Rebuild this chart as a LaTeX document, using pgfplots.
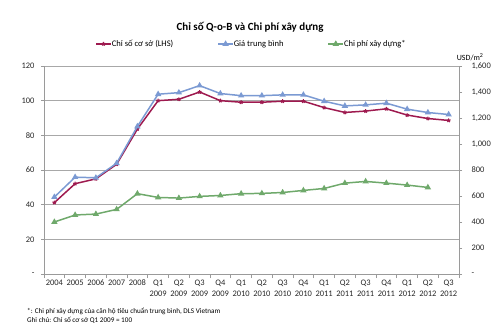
\documentclass[border=0pt]{standalone}
\usepackage{pgfplots}
\pgfplotsset{compat=1.18}
\usepackage{fontspec}
\setmainfont{Carlito}
\definecolor{cred}{HTML}{9E1A4F}
\definecolor{cblue}{HTML}{7B9AD3}
\definecolor{cgreen}{HTML}{6FA96B}
\definecolor{gridc}{HTML}{A8A8A8}
\definecolor{axc}{HTML}{9A9A9A}
\begin{document}
\begin{tikzpicture}[x=1bp,y=1bp]
\path[use as bounding box] (0,0) rectangle (500,335);
\pgfplotsset{
  common/.style={
    at={(44bp,61bp)}, anchor=south west, scale only axis,
    width=415bp, height=208bp,
    xmin=-0.5, xmax=19.5,
    tick align=outside,
    axis line style={color=axc, line width=0.8pt},
    every tick/.style={color=axc, line width=0.8pt},
    major tick length=3bp, minor tick length=4bp,
    tick label style={font=\fontsize{8.5}{11.5}\selectfont, color=black!85},
  }
}
\begin{axis}[common,
  ymin=0, ymax=120,
  ytick={0,20,...,120},
  yticklabels={-,20,40,60,80,100,120},
  xtick={0,...,19},
  xticklabels={2004,2005,2006,2007,2008,
    Q1\\2009,Q2\\2009,Q3\\2009,Q4\\2009,
    Q1\\2010,Q2\\2010,Q3\\2010,Q4\\2010,
    Q1\\2011,Q2\\2011,Q3\\2011,Q4\\2011,
    Q1\\2012,Q2\\2012,Q3\\2012},
  xticklabel style={align=center, anchor=north, yshift=1bp},
  major x tick style={draw=none},
  minor xtick={-0.5,0.5,...,19.5},
  ymajorgrids, grid style={color=gridc, line width=0.8pt},
  axis y line*=left, axis x line*=bottom,
  yticklabel style={xshift=-3bp},
]
\addplot[color=cred, line width=1.5pt, mark=star, mark size=2pt, mark options={line width=1.2pt}]
  coordinates {(0,41.2)(1,52.1)(2,54.9)(3,63.3)(4,83.6)(5,100)(6,100.8)(7,105)(8,100)(9,99.1)
  (10,99.1)(11,99.7)(12,99.7)(13,96)(14,93.2)(15,94)(16,95.3)(17,91.7)(18,89.7)(19,88.6)};
\end{axis}
\begin{axis}[common,
  ymin=0, ymax=1600,
  ytick={0,200,...,1600},
  yticklabels={-,200,400,600,800,{1,000},{1,200},{1,400},{1,600}},
  yticklabel style={anchor=west, xshift=6bp},
  axis y line*=right, axis x line=none,
  legend style={at={(0.5,1.106)}, anchor=center, draw=none, fill=none,
    legend columns=3, font=\fontsize{8.6}{10}\selectfont,
    /tikz/every even column/.append style={column sep=42bp},
    /tikz/every odd column/.append style={column sep=-2bp},
    inner sep=0pt, cells={anchor=west}},
  legend image code/.code={\draw[mark repeat=2,mark phase=2] plot coordinates {(0bp,0bp)(7.5bp,0bp)(15bp,0bp)};},
]
\addlegendimage{color=cred, line width=1.5pt, mark=star, mark size=2pt, mark options={line width=1.2pt}}
\addlegendentry{Chỉ số cơ sở (LHS)}
\addplot[color=cblue, line width=1.5pt, mark=triangle*, mark size=2.2pt]
  coordinates {(0,592)(1,745)(2,740)(3,852)(4,1135)(5,1383)(6,1395)(7,1449)(8,1388)(9,1372)
  (10,1372)(11,1378)(12,1378)(13,1329)(14,1293)(15,1301)(16,1314)(17,1268)(18,1242)(19,1227)};
\addlegendentry{Giá trung bình}
\addplot[color=cgreen, line width=1.5pt, mark=triangle*, mark size=2.2pt]
  coordinates {(0,400)(1,454)(2,461)(3,497)(4,618)(5,589)(6,584)(7,597)(8,604)(9,618)
  (10,620)(11,627)(12,643)(13,658)(14,699)(15,712)(16,699)(17,684)(18,666)};
\addlegendentry{Chi phí xây dựng*}
\end{axis}
\node[font=\bfseries\fontsize{11}{13}\selectfont] at (250,308) {Chỉ số Q-o-B và Chi phí xây dựng};
\node[font=\fontsize{8}{10}\selectfont, anchor=east] at (487,278) {USD/m\textsuperscript{2}};
\node[font=\fontsize{7.2}{8}\selectfont, anchor=west, inner sep=0pt] at (27,24) {*: Chi phí xây dựng của căn hộ tiêu chuẩn trung bình, DLS Vietnam};
\node[font=\fontsize{7.2}{8}\selectfont, anchor=west, inner sep=0pt] at (27,15) {Ghi chú: Chỉ số cơ sở Q1 2009 = 100};
\end{tikzpicture}
\end{document}
